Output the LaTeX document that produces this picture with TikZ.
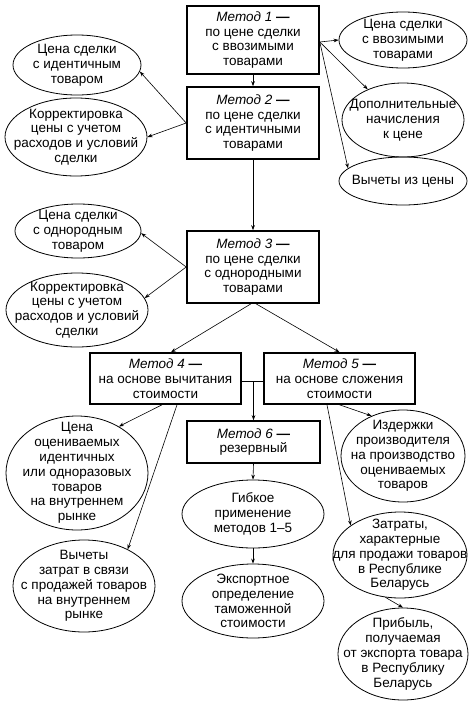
\documentclass[tikz,border=0pt]{standalone}
\usepackage{fontspec}
\setmainfont{Liberation Sans}
\usetikzlibrary{shapes.geometric,arrows.meta,calc}
\tikzset{
  box/.style={draw,line width=1.6pt,rectangle,inner sep=0pt,align=center,font=\fontsize{13.5}{14.8}\selectfont},
  oval/.style={draw,line width=0.8pt,ellipse,inner sep=0pt},
  txt/.style={inner sep=0pt,align=center,font=\fontsize{13.5}{14.8}\selectfont},
  arr/.style={line width=0.6pt,-{Stealth[length=5pt,width=3.6pt]}},
  link/.style={line width=0.6pt}
}
\newcommand{\met}[1]{\textit{Метод #1}~{\bfseries —}}
\newcommand{\ov}[5]{\node[oval,minimum width=#3,minimum height=#4] (#1) at #2 {};
  \node[txt] (#1t) at (#1.center) {#5};}
\begin{document}
\begin{tikzpicture}[x=1pt,y=-1pt]
\useasboundingbox (0,0) rectangle (471,704);
% boxes
\node[box,minimum width=132pt,minimum height=68pt] (m1) at (253,40) {\met{1}\\по цене сделки\\с ввозимыми\\товарами};
\node[box,minimum width=132pt,minimum height=72pt] (m2) at (253,123) {\met{2}\\по цене сделки\\с идентичными\\товарами};
\node[box,minimum width=132pt,minimum height=72pt] (m3) at (253,267) {\met{3}\\по цене сделки\\с однородными\\товарами};
\node[box,minimum width=151pt,minimum height=51pt] (m4) at (165.5,378.5) {\met{4}\\на основе вычитания\\стоимости};
\node[box,minimum width=151pt,minimum height=51pt] (m5) at (339.5,378.5) {\met{5}\\на основе сложения\\стоимости};
\node[box,minimum width=133pt,minimum height=42pt] (m6) at (253.5,442) {\met{6}\\резервный};
% ellipses
\ov{e11}{(403,40)}{128pt}{56pt}{Цена сделки\\с ввозимыми\\товарами}
\ov{e12}{(403,120)}{122pt}{74pt}{Дополнительные\\начисления\\к цене}
\ov{e13}{(403,181)}{128pt}{48pt}{Вычеты из цены}
\ov{e21}{(77,65)}{128pt}{60pt}{Цена сделки\\с идентичным\\товаром}
\ov{e22}{(76,137)}{142pt}{78pt}{Корректировка\\цены с учетом\\расходов и условий\\сделки}
\ov{e31}{(78,231)}{126pt}{54pt}{Цена сделки\\с однородным\\товаром}
\ov{e32}{(77,310)}{142pt}{74pt}{Корректировка\\цены с учетом\\расходов и условий\\сделки}
\ov{e41}{(77,473)}{142pt}{114pt}{Цена\\оцениваемых\\идентичных\\или одноразовых\\товаров\\на внутреннем\\рынке}
\ov{e42}{(84,586)}{142pt}{92pt}{Вычеты\\затрат в связи\\с продажей товаров\\на внутреннем\\рынке}
\ov{e61}{(253,514)}{142pt}{68pt}{Гибкое\\применение\\методов 1–5}
\ov{e62}{(253,601)}{142pt}{74pt}{Экспортное\\определение\\таможенной\\стоимости}
\ov{e51}{(403,456)}{124pt}{92pt}{Издержки\\производителя\\на производство\\оцениваемых\\товаров}
\ov{e52}{(400,555)}{134pt}{86pt}{Затраты,\\характерные\\для продажи товаров\\в Республике\\Беларусь}
\ov{e53}{(403,654)}{130pt}{92pt}{Прибыль,\\получаемая\\от экспорта товара\\в Республику\\Беларусь}
% connectors
\draw[arr] (m1.south) -- (m2.north);
\draw[arr] (m2.south) -- (m3.north);
\draw[arr] ([yshift=-2pt]m1.east) -- (e11.west);
\draw[arr] ([yshift=-2pt]m1.east) -- (e12.139);
\draw[arr] ([yshift=-2pt]m1.east) -- (e13.167);
\draw[arr] (m2.west) -- (e21.-6);
\draw[arr] (m2.west) -- (e22.east);
\draw[arr] (m3.west) -- (e31.-2);
\draw[arr] (m3.west) -- (e32.10);
\draw[arr] ([xshift=-2pt]m3.south) -- ([xshift=5.5pt]m4.north);
\draw[arr] ([xshift=3pt]m3.south) -- (m5.north);
\draw[link] ([yshift=-2.5pt]m4.east) -- ([yshift=-2.5pt]m5.west);
\coordinate (j) at ($(m6.north |- m4.east)+(0,2.5)$);
\draw[arr] (j) -- (m6.north);
\draw[arr] ([xshift=-3.5pt]m4.south) -- (e41.48);
\draw[arr] ([xshift=11.5pt]m4.south) -- (e42.40);
\draw[arr] (m6.south) -- (e61.north);
\draw[arr] (e61.south) -- (e62.north);
\draw[arr] (m5.south) -- (e51.128);
\draw[arr] ([xshift=-12.5pt]m5.south) -- (e52.149);
\draw[arr] (e52.251) -- (e53.north);
\end{tikzpicture}
\end{document}
